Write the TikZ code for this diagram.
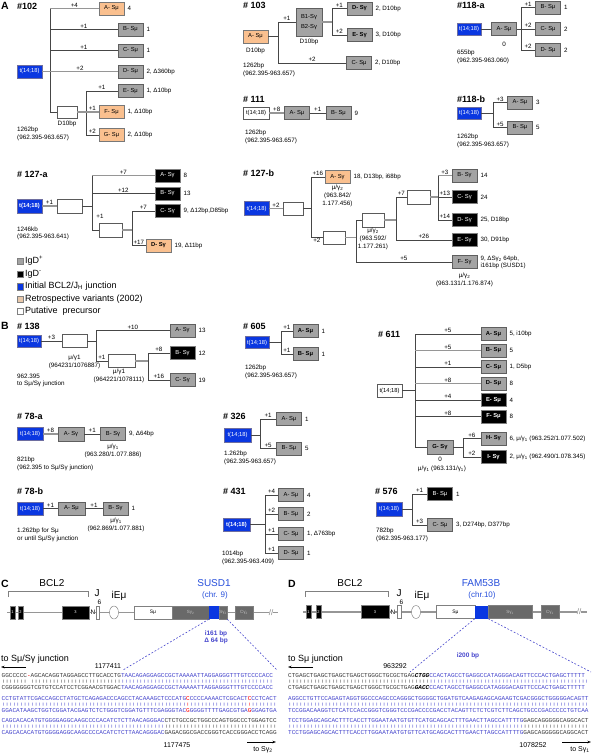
\documentclass[tikz,border=0pt]{standalone}
\usepackage{fontspec}
\setmainfont{Liberation Sans}
\newfontfamily\monof{Liberation Mono}
\usetikzlibrary{arrows.meta,shapes.geometric}
\definecolor{gfill}{RGB}{163,163,163}
\definecolor{gedge}{RGB}{95,95,95}
\definecolor{ofill}{RGB}{250,192,143}
\definecolor{oedge}{RGB}{120,120,120}
\definecolor{tblue}{RGB}{10,55,225}
\definecolor{tedge}{RGB}{110,110,160}
\definecolor{wedge}{RGB}{90,90,90}
\definecolor{lndark}{RGB}{70,70,70}
\definecolor{lnlight}{RGB}{150,150,150}
\definecolor{seqblue}{RGB}{70,70,205}
\definecolor{seqk}{RGB}{60,60,60}
\definecolor{titleblue}{RGB}{40,80,220}
\definecolor{exgray}{RGB}{105,105,105}
\definecolor{legtan}{RGB}{232,200,170}
\newcommand\fs[1]{\fontsize{#1}{#1}\selectfont}
\newcount\barN
\newcommand\Bars[1]{\barN=#1\relax\loop\ifnum\barN>0 |\advance\barN by -1 \repeat}
\newcommand\sqK[1]{\textcolor{seqk}{#1}}
\newcommand\sqB[1]{\textcolor{seqblue}{#1}}
\newcommand\sqR[1]{\textcolor{red}{#1}}
\newcommand\barrow[1]{\scalebox{1}[0.55]{#1}}
\newcommand\mkbox[5]{\node[#1] (#2) at (#3) {#4};\node[lbl,anchor=west] (#2-t) at ([xshift=3pt]#2.east) {#5};}
\newcommand\mkbr[4]{\draw[#1] (#2 |- #3.west) -- node[el]{#4} (#3.west);}
\begin{document}
\begin{tikzpicture}[x=1pt,y=-1pt,
 bx/.style={draw=gedge, line width=0.7pt, minimum width=25pt, minimum height=13pt, inner sep=0pt, font=\fs{5.8}},
 gb/.style={bx, fill=gfill},
 bb/.style={bx, fill=black, draw=gray, text=white},
 ob/.style={bx, fill=ofill, draw=oedge},
 tb/.style={bx, fill=tblue, draw=tedge, text=white},
 wb/.style={bx, fill=white, draw=wedge},
 ln/.style={draw=lndark, line width=0.7pt},
 lg/.style={draw=lnlight, line width=1.2pt},
 lbl/.style={font=\fs{6.2}, inner sep=0pt},
 el/.style={lbl, above=0.8pt},
 elb/.style={lbl, below=0.8pt},
 info/.style={anchor=west, font=\fs{6.3}, inner sep=0pt},
 infoc/.style={font=\fs{6.3}, inner sep=0pt},
 ttl/.style={anchor=west, font=\fs{9}\bfseries, inner sep=0pt},
 pan/.style={anchor=west, font=\fs{10.5}\bfseries, inner sep=0pt},
 leg/.style={anchor=west, font=\fs{9}, inner sep=0pt},
 sq/.style={minimum size=6.5pt, inner sep=0pt, draw=gray, line width=0.5pt},
 exon/.style={fill=black, draw=gray, line width=0.4pt, minimum width=5pt, minimum height=13pt, inner sep=0pt, text=white, font=\fs{4}},
 sreg/.style={fill=exgray, draw=gray, line width=0.5pt, minimum height=13pt, inner sep=0pt, text=lightgray, font=\fs{4.5}},
 gl/.style={draw=lnlight, line width=1.1pt},
 dl/.style={draw=seqblue, line width=0.6pt, dash pattern=on 1.8pt off 1.8pt},
 seq/.style={anchor=west, inner sep=0pt, font=\monof\fs{6.03}},
 arr/.style={draw=black, line width=0.6pt, -{Stealth[length=3.5pt,width=2.5pt]}},
]
\useasboundingbox (0,0) rectangle (592,754);
\fill[white] (0,0) rectangle (592,754);

%================ PANEL A ================
\node[pan] (pA) at (1,6) {A};
% ---- #102
\node[ttl] (h102) at (17,6) {\#102};
\node[tb] (t102) at (29.5,71.5) {t(14;18)};
\mkbox{ob}{A102}{111.5,8.5}{A- Sμ}{4}
\mkbox{gb}{B102}{130.5,29.5}{B- Sμ}{1}
\mkbox{gb}{C102}{130.5,50.5}{C- Sμ}{1}
\mkbox{gb}{D102}{130.5,71.5}{D- Sμ}{2, Δ360bp}
\node[wb, minimum width=20pt, minimum height=12pt] (W102) at (67,112) {};
\node[infoc] (W102l) at (67,124) {D10bp};
\mkbox{gb}{E102}{130.5,91}{E- Sμ}{1, Δ10bp}
\mkbox{ob}{F102}{111.5,112}{F- Sμ}{1, Δ10bp}
\mkbox{ob}{G102}{111.5,135}{G- Sμ}{2, Δ10bp}
\coordinate (v102) at (50,71.5);
\coordinate (u102) at (86,112);
\draw[ln] (v102 |- A102.west) -- (v102 |- W102.west);
\mkbr{lg}{v102}{A102}{+4}
\mkbr{ln}{v102}{B102}{+1}
\mkbr{ln}{v102}{C102}{+1}
\draw[lg] (t102.east) -- node[el]{+2} (D102.west);
\mkbr{ln}{v102}{W102}{}
\draw[lg] (W102.east) -- (u102);
\draw[ln] (u102 |- E102.west) -- (u102 |- G102.west);
\mkbr{ln}{u102}{E102}{+1}
\mkbr{lg}{u102}{F102}{+1}
\mkbr{ln}{u102}{G102}{+2}
\node[info] (n102a) at (17,130) {1262bp};
\node[info] (n102b) at (17,138) {(962.395-963.657)};

% ---- #103
\node[ttl] (h103) at (243,5) {\# 103};
\mkbox{ob}{A103}{255.5,36.5}{A- Sμ}{}
\node[infoc] (A103l) at (255.5,51) {D10bp};
\node[gb, minimum width=26pt, minimum height=28pt, align=center] (B103) at (309,22) {B1-Sγ\\[4pt]B2-Sγ};
\node[infoc] (B103l) at (309,42) {D10bp};
\mkbox{gb}{C103}{359,63}{C- Sμ}{2, D10bp}
\mkbox{gb}{D103}{359.5,8.5}{\textbf{D- Sγ}}{2, D10bp}
\mkbox{gb}{E103}{359.5,35}{\textbf{E- Sγ}}{3, D10bp}
\coordinate (v103) at (278,36.5);
\coordinate (u103) at (332,22);
\draw[ln] (A103.east) -- (v103);
\draw[ln] (v103 |- B103.west) -- (v103 |- C103.west);
\mkbr{ln}{v103}{B103}{+1}
\mkbr{ln}{v103}{C103}{+2}
\draw[lg] (B103.east) -- (u103);
\draw[ln] (u103 |- D103.west) -- (u103 |- E103.west);
\mkbr{ln}{u103}{D103}{+1}
\mkbr{ln}{u103}{E103}{+2}
\node[info] (n103a) at (243,66) {1262bp};
\node[info] (n103b) at (243,74) {(962.395-963.657)};

% ---- #111
\node[ttl] (h111) at (243,99) {\# 111};
\node[wb, minimum width=26pt, minimum height=12pt] (t111) at (256,113) {t(14;18)};
\mkbox{gb}{A111}{297,113}{A- Sμ}{}
\mkbox{gb}{B111}{338.5,113}{B- Sμ}{9}
\draw[lg] (t111.east) -- node[el]{+8} (A111.west);
\draw[ln] (A111.east) -- node[el]{+1} (B111.west);
\node[info] (n111a) at (245,133) {1262bp};
\node[info] (n111b) at (245,141) {(962.395-963.657)};

% ---- #118-a
\node[ttl] (h118a) at (457,5) {\#118-a};
\node[tb, minimum width=24pt, minimum height=12pt] (t118a) at (469,29) {t(14;18)};
\mkbox{gb}{A118a}{504,29}{A- Sμ}{}
\node[infoc] (A118al) at (504,44) {0};
\mkbox{gb}{B118a}{548,7.5}{B- Sμ}{1}
\mkbox{gb}{C118a}{548,29}{C- Sμ}{2}
\mkbox{gb}{D118a}{548,50}{D- Sμ}{2}
\coordinate (v118a) at (521,29);
\draw[ln] (t118a.east) -- (A118a.west);
\draw[ln] (A118a.east) -- (v118a);
\draw[ln] (v118a |- B118a.west) -- (v118a |- D118a.west);
\mkbr{ln}{v118a}{B118a}{+1}
\mkbr{ln}{v118a}{C118a}{+2}
\mkbr{ln}{v118a}{D118a}{+2}
\node[info] (n118a1) at (457,53) {655bp};
\node[info] (n118a2) at (457,61) {(962.395-963.060)};

% ---- #118-b
\node[ttl] (h118b) at (457,99) {\#118-b};
\node[tb, minimum width=24pt, minimum height=12pt] (t118b) at (469,113) {t(14;18)};
\mkbox{gb}{A118b}{520,102.5}{A- Sμ}{3}
\mkbox{gb}{B118b}{520,127.5}{B- Sμ}{5}
\coordinate (v118b) at (493,113);
\draw[ln] (t118b.east) -- (v118b);
\draw[ln] (v118b |- A118b.west) -- (v118b |- B118b.west);
\mkbr{ln}{v118b}{A118b}{+3}
\mkbr{ln}{v118b}{B118b}{+5}
\node[info] (n118b1) at (457,137) {1262bp};
\node[info] (n118b2) at (457,145) {(962.395-963.657)};

% ---- #127-a
\node[ttl] (h127a) at (17,174) {\# 127-a};
\node[tb, minimum height=14pt] (t127a) at (29.5,206) {\textbf{t(14;18)}};
\node[wb, minimum height=14pt] (W127a) at (69.5,206) {};
\node[wb, minimum width=23pt, minimum height=14pt] (X127a) at (110.5,230) {};
\mkbox{bb}{A127a}{167.5,175.5}{A- Sγ}{8}
\mkbox{bb}{B127a}{167.5,193.5}{B- Sγ}{13}
\mkbox{bb}{C127a}{167.5,211}{C- Sγ}{9, Δ12bp,D85bp}
\mkbox{ob}{D127a}{158.5,245.5}{\textbf{D- Sγ}}{19, Δ11bp}
\coordinate (v127a) at (92,206);
\coordinate (u127a) at (132,230);
\draw[lg] (t127a.east) -- node[el]{+1} (W127a.west);
\draw[ln] (W127a.east) -- (v127a);
\draw[ln] (v127a |- A127a.west) -- (v127a |- X127a.west);
\mkbr{lg}{v127a}{A127a}{+7}
\mkbr{ln}{v127a}{B127a}{+12}
\draw[ln] (v127a |- X127a.west) -- (X127a.west);
\node[lbl] (X127al) at (100,216) {+1};
\draw[lg] (X127a.east) -- (u127a);
\draw[ln] (u127a |- C127a.west) -- (u127a |- D127a.west);
\mkbr{ln}{u127a}{C127a}{+7}
\mkbr{ln}{u127a}{D127a}{+17}
\node[info] (n127a1) at (17,229) {1246kb};
\node[info] (n127a2) at (17,237) {(962.395-963.641)};

% ---- legend
\node[sq, fill=gfill] (lq1) at (20,261) {};
\node[leg] (lt1) at (25,261) {IgD\textsuperscript{+}};
\node[sq, fill=black] (lq2) at (20,274) {};
\node[leg] (lt2) at (25,274) {IgD\textsuperscript{-}};
\node[sq, fill=tblue] (lq3) at (20,286.5) {};
\node[leg] (lt3) at (25,286.5) {Initial BCL2/J\textsubscript{H} junction};
\node[sq, fill=legtan] (lq4) at (20,299) {};
\node[leg] (lt4) at (25,299) {Retrospective variants (2002)};
\node[sq, fill=white] (lq5) at (20,311) {};
\node[leg] (lt5) at (25,311) {Putative~ precursor};

% ---- #127-b
\node[ttl] (h127b) at (243,173) {\# 127-b};
\node[tb, minimum height=14pt] (t127b) at (256.5,208.5) {t(14;18)};
\node[wb, minimum width=20pt] (W127b1) at (293,208.5) {};
\mkbox{ob}{A127b}{337.5,177}{A- Sγ}{18, D13bp, i68bp}
\node[infoc, align=center] (A127bl) at (337.5,196) {μ/γ\textsubscript{2}\\[1.5pt](963.842/\\[1.5pt]1.177.456)};
\node[wb, minimum width=22pt] (W127b2) at (334,237.5) {};
\node[wb, minimum width=22pt, minimum height=14pt] (W127b3) at (373,220) {};
\node[infoc, align=center] (W127b3l) at (373,239) {μ/γ\textsubscript{2}\\[1.5pt](963.592/\\[1.5pt]1.177.261)};
\node[wb, minimum width=23pt, minimum height=14pt] (W127b4) at (418.5,197) {};
\mkbox{gb}{B127b}{464.5,175.5}{B- Sγ}{14}
\mkbox{bb}{C127b}{464.5,197}{C- Sγ}{24}
\mkbox{bb}{D127b}{464.5,220}{D- Sγ}{25, D18bp}
\mkbox{bb}{E127b}{464.5,240}{E- Sγ}{30, D91bp}
\node[gb] (F127b) at (464.5,262) {F- Sγ};
\node[lbl, anchor=west, align=left] (F127b-t) at ([xshift=3pt]F127b.east) {9, ΔSγ\textsubscript{2} 64pb,\\[1pt]i161bp (SUSD1)};
\node[infoc, align=center] (F127bl) at (464.5,280) {μ/γ\textsubscript{2}\\[1.5pt](963.131/1.176.874)};
\coordinate (v127b) at (311,208.5);
\coordinate (u127b) at (356,237.5);
\coordinate (r3) at (396,220);
\coordinate (r4) at (438,197);
\draw[lg] (t127b.east) -- node[el]{+2} (W127b1.west);
\draw[ln] (W127b1.east) -- (v127b);
\draw[ln] (v127b |- A127b.west) -- (v127b |- W127b2.west);
\mkbr{ln}{v127b}{A127b}{+16}
\draw[ln] (v127b |- W127b2.west) -- node[elb]{+2} (W127b2.west);
\draw[lg] (W127b2.east) -- (u127b);
\draw[ln] (u127b |- W127b3.west) -- (u127b |- F127b.west);
\mkbr{ln}{u127b}{W127b3}{}
\mkbr{ln}{u127b}{F127b}{+5}
\draw[lg] (W127b3.east) -- (r3);
\draw[ln] (r3 |- W127b4.west) -- (r3 |- E127b.west);
\mkbr{ln}{r3}{W127b4}{+7}
\mkbr{ln}{r3}{E127b}{+26}
\draw[lg] (W127b4.east) -- (r4);
\draw[ln] (r4 |- B127b.west) -- (r4 |- D127b.west);
\mkbr{lg}{r4}{B127b}{+3}
\mkbr{ln}{r4}{C127b}{+13}
\mkbr{ln}{r4}{D127b}{+14}

%================ PANEL B ================
\node[pan] (pB) at (1,326) {B};
% ---- #138
\node[ttl] (h138) at (17,326) {\# 138};
\node[tb, minimum width=24pt, minimum height=12pt] (t138) at (29,341) {t(14;18)};
\node[wb] (W138a) at (74.5,341) {};
\node[infoc, align=center] (W138al) at (74.5,362) {μ/γ1\\[1.5pt](964231/1076887)};
\node[wb, minimum width=27pt] (W138b) at (121.5,361) {};
\node[infoc, align=center] (W138bl) at (119,376) {μ/γ1\\[1.5pt](964221/1078111)};
\mkbox{gb}{A138}{182.5,330.5}{A- Sγ}{13}
\mkbox{bb}{B138}{182.5,353}{B- Sγ}{12}
\mkbox{gb}{C138}{182.5,380}{C- Sγ}{19}
\coordinate (v138) at (96,341);
\coordinate (u138) at (148,361);
\draw[ln] (t138.east) -- node[el]{+3} (W138a.west);
\draw[ln] (W138a.east) -- (v138);
\draw[ln] (v138 |- A138.west) -- (v138 |- W138b.west);
\mkbr{ln}{v138}{A138}{+10}
\mkbr{ln}{v138}{W138b}{+1}
\draw[lg] (W138b.east) -- (u138);
\draw[ln] (u138 |- B138.west) -- (u138 |- C138.west);
\mkbr{ln}{u138}{B138}{+8}
\mkbr{ln}{u138}{C138}{+16}
\node[info] (n138a) at (17,376) {962.395};
\node[info] (n138b) at (17,384) {to Sμ/Sγ junction};

% ---- #605
\node[ttl] (h605) at (243,326) {\# 605};
\node[tb, minimum width=24pt, minimum height=12pt] (t605) at (257,342.5) {t(14;18)};
\mkbox{gb}{A605}{305.5,331}{\textbf{A- Sμ}}{1}
\mkbox{gb}{B605}{305.5,354}{\textbf{B- Sμ}}{1}
\coordinate (v605) at (281,342.5);
\draw[ln] (t605.east) -- (v605);
\draw[ln] (v605 |- A605.west) -- (v605 |- B605.west);
\mkbr{ln}{v605}{A605}{+1}
\mkbr{ln}{v605}{B605}{+1}
\node[info] (n605a) at (245,368) {1262bp};
\node[info] (n605b) at (245,376) {(962.395-963.657)};

% ---- #611
\node[ttl] (h611) at (378,334) {\# 611};
\node[wb] (t611) at (389.5,390.5) {t(14;18)};
\mkbox{gb}{A611}{493.5,334}{\textbf{A- Sμ}}{5, i10bp}
\mkbox{gb}{B611}{493.5,350.5}{\textbf{B- Sμ}}{5}
\mkbox{gb}{C611}{493.5,367}{\textbf{C- Sμ}}{1, D5bp}
\mkbox{gb}{D611}{493.5,383.5}{\textbf{D- Sμ}}{8}
\mkbox{bb}{E611}{493.5,400}{\textbf{E- Sμ}}{4}
\mkbox{bb}{F611}{493.5,416.5}{\textbf{F- Sμ}}{8}
\node[gb, minimum width=26pt, minimum height=14pt] (G611) at (440,447) {\textbf{G- Sγ}};
\node[infoc] (G611a) at (440,459) {0};
\node[infoc] (G611b) at (442,469) {μ/γ\textsubscript{1} (963.131/γ\textsubscript{1})};
\mkbox{gb}{H611}{493.5,438.5}{\textbf{H- Sγ}}{6, μ/γ\textsubscript{1} (963.252/1.077.502)}
\mkbox{bb}{I611}{493.5,457}{\textbf{I- Sγ}}{2, μ/γ\textsubscript{1} (962.490/1.078.345)}
\coordinate (v611) at (415,390.5);
\coordinate (u611) at (463,447);
\draw[ln] (t611.east) -- (v611);
\draw[ln] (v611 |- A611.west) -- (v611 |- G611.west);
\mkbr{ln}{v611}{A611}{+5}
\mkbr{lg}{v611}{B611}{+5}
\mkbr{ln}{v611}{C611}{+1}
\mkbr{lg}{v611}{D611}{+8}
\mkbr{ln}{v611}{E611}{+4}
\mkbr{ln}{v611}{F611}{+8}
\mkbr{ln}{v611}{G611}{}
\draw[ln] (G611.east) -- (u611);
\draw[ln] (u611 |- H611.west) -- (u611 |- I611.west);
\mkbr{ln}{u611}{H611}{+6}
\mkbr{ln}{u611}{I611}{+2}

% ---- #78-a
\node[ttl] (h78a) at (17,416) {\# 78-a};
\node[tb, minimum width=26pt] (t78a) at (30,434) {t(14;18)};
\node[gb, minimum width=26pt, minimum height=14pt] (A78a) at (71,434) {A- Sγ};
\mkbox{gb}{B78a}{113,434}{B- Sγ}{9, Δ64bp}
\draw[lg] (t78a.east) -- node[el]{+8} (A78a.west);
\draw[ln] (A78a.east) -- node[el]{+1} (B78a.west);
\node[infoc, align=center] (B78al) at (113,451) {μ/γ\textsubscript{1}\\[1.5pt](963.280/1.077.886)};
\node[info] (n78a1) at (17,460) {821bp};
\node[info] (n78a2) at (17,468) {(962.395 to Sμ/Sγ junction)};

% ---- #78-b
\node[ttl] (h78b) at (17,491) {\# 78-b};
\node[tb, minimum width=26pt] (t78b) at (30,508.5) {t(14;18)};
\node[gb, minimum width=27pt] (A78b) at (71.5,508.5) {A- Sμ};
\mkbox{gb}{B78b}{115.5,508.5}{B- Sγ}{1}
\draw[ln] (t78b.east) -- node[el]{+1} (A78b.west);
\draw[ln] (A78b.east) -- node[el]{+1} (B78b.west);
\node[infoc, align=center] (B78bl) at (116,525) {μ/γ\textsubscript{1}\\[1.5pt](962.869/1.077.881)};
\node[info] (n78b1) at (17,531) {1.262bp for Sμ};
\node[info] (n78b2) at (17,539) {or until Sμ/Sγ junction};

% ---- #326
\node[ttl] (h326) at (223,416) {\# 326};
\node[tb, minimum width=27pt, minimum height=14pt] (t326) at (237.5,435) {t(14;18)};
\mkbox{gb}{A326}{289,419}{A- Sμ}{1}
\mkbox{gb}{B326}{289,448.5}{B- Sμ}{5}
\coordinate (v326) at (260,435);
\draw[ln] (t326.east) -- (v326);
\draw[ln] (v326 |- A326.west) -- (v326 |- B326.west);
\mkbr{ln}{v326}{A326}{+1}
\mkbr{ln}{v326}{B326}{+5}
\node[info] (n326a) at (224,454) {1.262bp};
\node[info] (n326b) at (224,462) {(962.395-963.657)};

% ---- #431
\node[ttl] (h431) at (223,491) {\# 431};
\node[tb, minimum width=27pt] (t431) at (236.5,524.5) {\textbf{t(14;18)}};
\mkbox{gb}{A431}{291,495}{A- Sμ}{4}
\mkbox{gb}{B431}{291,514}{B- Sμ}{2}
\mkbox{gb}{C431}{291,534}{C- Sμ}{1, Δ763bp}
\mkbox{gb}{D431}{291,553}{D- Sμ}{1}
\coordinate (v431) at (265,524.5);
\draw[ln] (t431.east) -- (v431);
\draw[ln] (v431 |- A431.west) -- (v431 |- D431.west);
\mkbr{ln}{v431}{A431}{+4}
\mkbr{ln}{v431}{B431}{+2}
\mkbr{ln}{v431}{C431}{+1}
\mkbr{ln}{v431}{D431}{+1}
\node[info] (n431a) at (222,554) {1014bp};
\node[info] (n431b) at (222,562) {(962.395-963.409)};

% ---- #576
\node[ttl] (h576) at (375,491) {\# 576};
\node[tb, minimum width=26pt, minimum height=14pt] (t576) at (389,509) {t(14;18)};
\mkbox{bb}{B576}{440,494}{B- Sμ}{1}
\mkbox{gb}{C576}{440,525}{C- Sμ}{3, D274bp, D377bp}
\coordinate (v576) at (412,509);
\draw[ln] (t576.east) -- (v576);
\draw[ln] (v576 |- B576.west) -- (v576 |- C576.west);
\mkbr{ln}{v576}{B576}{+1}
\mkbr{ln}{v576}{C576}{+3}
\node[info] (n576a) at (376,531) {782bp};
\node[info] (n576b) at (376,539) {(962.395-963.177)};

%================ PANEL C ================
\node[pan] (pC) at (1,584) {C};
\node[font=\fs{10}] (bclC) at (52,583) {BCL2};
\draw[draw=gray, line width=0.6pt] (8,597) -- (8,591) -- (88,591) -- (88,597);
\node[font=\fs{10}, text=titleblue] (susd) at (214,583) {SUSD1};
\node[font=\fs{8}, text=titleblue] (chr9) at (215,595) {(chr. 9)};
\coordinate (cg0) at (7,612.5);
\coordinate (cg1) at (278,612.5);
\draw[gl] (cg0) -- (cg1);
\node[exon] (c1) at (12.5,612.5) {1};
\node[exon] (c2) at (20.5,612.5) {2};
\node[exon, minimum width=27pt] (c3) at (75.5,612.5) {3};
\node[font=\fs{6.5}, inner sep=0pt, fill=white] (cN) at (93,612.5) {N};
\node[draw=gray, fill=white, minimum width=3pt, minimum height=13pt, inner sep=0pt] (cJ) at (97.5,612.5) {};
\node[font=\fs{10}, inner sep=0pt] (cJt) at (97,593) {J};
\node[font=\fs{6.5}, inner sep=0pt] (cJs) at (99.5,602.5) {6};
\node[font=\fs{10}, inner sep=0pt] (ciE) at (119,596) {iEμ};
\node[draw=gray, fill=white, ellipse, minimum width=9pt, minimum height=13pt, inner sep=0pt] (cE) at (114,612.5) {};
\node[draw=gray, fill=white, minimum width=38pt, minimum height=13pt, inner sep=0pt, font=\fs{5}] (cSm) at (153,612.5) {Sμ};
\node[sreg, minimum width=37pt] (cSg1) at (190.5,612.5) {Sγ\textsubscript{2}};
\node[fill=tblue, minimum width=10pt, minimum height=13pt, inner sep=0pt] (cBl) at (214,612.5) {};
\node[sreg, minimum width=8pt] (cSg2) at (223,612.5) {Sγ\textsubscript{2}};
\node[sreg, minimum width=18pt] (cCg) at (244,612.5) {Cγ\textsubscript{2}};
\node[font=\fs{8}, text=gray, inner sep=0pt, fill=white] (cSl) at (271,612.5) {//};
\coordinate (cd2) at (123,670);
\coordinate (cd4) at (277,670);
\draw[dl] (cBl.south west) -- (cd2);
\draw[dl] (cSg2.south east) -- (cd4);
\node[font=\fs{6.5}\bfseries, text=seqblue, align=center] (ci161) at (216,637.5) {i161 bp\\[1pt]Δ 64 bp};
\node[anchor=west, font=\fs{9}, inner sep=0pt] (cto1) at (1,659) {to Sμ/Sγ junction};
\coordinate (ca1) at (26,667);
\coordinate (ca2) at (1,667);
\draw[arr] (ca1) -- (ca2);
\node[font=\fs{7}, inner sep=0pt] (c1177411) at (108,666) {1177411};
\node[seq] (cs1a) at (1.5,676) {\sqK{GGCCCCC}\sqR{-}\sqK{AGCACAGGTAGGAGCCTTGCACCTG}\sqB{TAACAGAGGAGCCGCTAAAAATTAGGAGGGTTTGTCCCCACC}};
\node[seq] (cs1b) at (1.5,682) {\barrow{\sqK{\Bars{7}}\ \sqK{\Bars{25}}\sqB{\Bars{42}}}};
\node[seq] (cs1c) at (1.5,688) {\sqK{CGGGGGGGTCGTGTCCATCCTCGGAACGTGGAC}\sqB{TAACAGAGGAGCCGCTAAAAATTAGGAGGGTTTGTCCCCACC}};
\node[seq] (cs2a) at (1.5,698.5) {\sqB{CCTGTATTCGACCAGCCTATGCTCAGAGACCCAGCCTACAAAGCTCCCATG}\sqR{C}\sqB{CCCCAAAACTCGCACT}\sqR{C}\sqB{CCTCACT}};
\node[seq] (cs2b) at (1.5,704.5) {\barrow{\sqB{\Bars{51}}\sqR{\Bars{1}}\sqB{\Bars{16}}\sqR{\Bars{1}}\sqB{\Bars{7}}}};
\node[seq] (cs2c) at (1.5,710.5) {\sqB{GGACATAAGCTGGTCGGATACGAGTCTCTGGGTCGGATGTTTCGAGGGTAC}\sqR{G}\sqB{GGGGTTTTGAGCGTGA}\sqR{G}\sqB{GGAGTGA}};
\node[seq] (cs3a) at (1.5,721) {\sqB{CAGCACACATGTGGGGAGGCAAGCCCCACATCTCTTAACAGGGAC}\sqK{CTCTGCCGCTGGCCCAGTGGCCCTGGAGTCC}};
\node[seq] (cs3b) at (1.5,727) {\barrow{\sqB{\Bars{45}}\sqK{\Bars{31}}}};
\node[seq] (cs3c) at (1.5,733) {\sqB{CAGCACACATGTGGGGAGGCAAGCCCCACATCTCTTAACAGGGAC}\sqK{GAGACGGCGACCGGGTCACCGGGACCTCAGG}};
\node[font=\fs{7}, inner sep=0pt] (c1177475) at (177,745) {1177475};
\coordinate (ca3) at (247,742);
\coordinate (ca4) at (276,742);
\draw[arr] (ca3) -- (ca4);
\node[font=\fs{7}, inner sep=0pt] (ctoSg) at (263,750) {to Sγ\textsubscript{2}};

%================ PANEL D ================
\node[pan] (pD) at (288,584) {D};
\node[font=\fs{10}] (bclD) at (350,583) {BCL2};
\draw[draw=gray, line width=0.6pt] (305,597) -- (305,591) -- (388,591) -- (388,597);
\node[font=\fs{10}, text=titleblue] (fam) at (481,583) {FAM53B};
\node[font=\fs{8}, text=titleblue] (chr10) at (482,595) {(chr.10)};
\coordinate (dg0) at (303,612);
\coordinate (dg1) at (587,612);
\draw[gl] (dg0) -- (dg1);
\node[exon] (d1) at (308.5,612) {1};
\node[exon] (d2) at (318.5,612) {2};
\node[exon, minimum width=28pt] (d3) at (375,612) {3};
\node[font=\fs{6.5}, inner sep=0pt, fill=white] (dN) at (393,612) {N};
\node[draw=gray, fill=white, minimum width=4pt, minimum height=13pt, inner sep=0pt] (dJ) at (399,612) {};
\node[font=\fs{10}, inner sep=0pt] (dJt) at (399,593) {J};
\node[font=\fs{6.5}, inner sep=0pt] (dJs) at (401.5,602.5) {6};
\node[font=\fs{10}, inner sep=0pt] (diE) at (422,596) {iEμ};
\node[draw=gray, fill=white, ellipse, minimum width=9pt, minimum height=13pt, inner sep=0pt] (dE) at (416,612) {};
\node[draw=gray, fill=white, minimum width=39pt, minimum height=13pt, inner sep=0pt, font=\fs{5}] (dSm) at (455.5,612) {Sμ};
\node[fill=tblue, minimum width=13pt, minimum height=13pt, inner sep=0pt] (dBl) at (481.5,612) {};
\node[sreg, minimum width=44pt] (dSg) at (510,612) {Sγ\textsubscript{1}};
\node[sreg, minimum width=18pt] (dCg) at (550,612) {Cγ\textsubscript{1}};
\node[font=\fs{8}, text=gray, inner sep=0pt, fill=white] (dSl) at (579,612) {//};
\coordinate (dd2) at (410,672);
\coordinate (dd4) at (591,672);
\draw[dl] (dBl.south west) -- (dd2);
\draw[dl] (dBl.south east) -- (dd4);
\node[font=\fs{6.5}\bfseries, text=seqblue] (di200) at (468,656) {i200 bp};
\node[anchor=west, font=\fs{9}, inner sep=0pt] (dto1) at (288,659) {to Sμ junction};
\coordinate (da1) at (313,667);
\coordinate (da2) at (288,667);
\draw[arr] (da1) -- (da2);
\node[font=\fs{7}, inner sep=0pt] (d963292) at (395,666) {963292};
\node[seq] (ds1a) at (288,676) {\sqK{CTGAGCTGAGCTGAGCTGAGCTGGGCTGCGCTGAG}{\bfseries\itshape CTGG}\sqB{CCACTAGCCTGAGGCCATAGGGACAGTTCCCACTGAGCTTTTT}};
\node[seq] (ds1b) at (288,682) {\barrow{\sqK{\Bars{39}}\sqB{\Bars{44}}}};
\node[seq] (ds1c) at (288,688) {\sqK{CTGAGCTGAGCTGAGCTGAGCTGGGCTGCGCTGAG}{\bfseries\itshape GACC}\sqB{CCACTAGCCTGAGGCCATAGGGACAGTTCCCACTGAGCTTTTT}};
\node[seq] (ds2a) at (288,698.5) {\sqB{AGGCCTGTTCCAGAGTAGGTGGCCCAGCCCAGGGCTGGGGCTGGATGTCAAGAGAGCAGAAGTCGACGGGCTGGGGGACAGTT}};
\node[seq] (ds2b) at (288,704.5) {\barrow{\sqB{\Bars{83}}}};
\node[seq] (ds2c) at (288,710.5) {\sqB{TCCGGACAAGGTCTCATCCACCGGGTCGGGTCCCGACCCCGACCTACAGTTCTCTCGTCTTCAGCTGCCCGACCCCCTGTCAA}};
\node[seq] (ds3a) at (288,721) {\sqB{TCCTGGAGCAGCACTTTCACCTTGGAATAATGTGTTCATGCAGCACTTTGAACTTAGCCATTTTG}\sqK{GAGCAGGGGGCAGGCACT}};
\node[seq] (ds3b) at (288,727) {\barrow{\sqB{\Bars{65}}\sqK{\Bars{18}}}};
\node[seq] (ds3c) at (288,733) {\sqB{TCCTGGAGCAGCACTTTCACCTTGGAATAATGTGTTCATGCAGCACTTTGAACTTAGCCATTTTG}\sqK{GAGCAGGGGGCAGGCACT}};
\node[font=\fs{7}, inner sep=0pt] (d1078252) at (533,745) {1078252};
\coordinate (da3) at (562,742);
\coordinate (da4) at (591,742);
\draw[arr] (da3) -- (da4);
\node[font=\fs{7}, inner sep=0pt] (dtoSg) at (580,750) {to Sγ\textsubscript{1}};
\end{tikzpicture}
\end{document}
